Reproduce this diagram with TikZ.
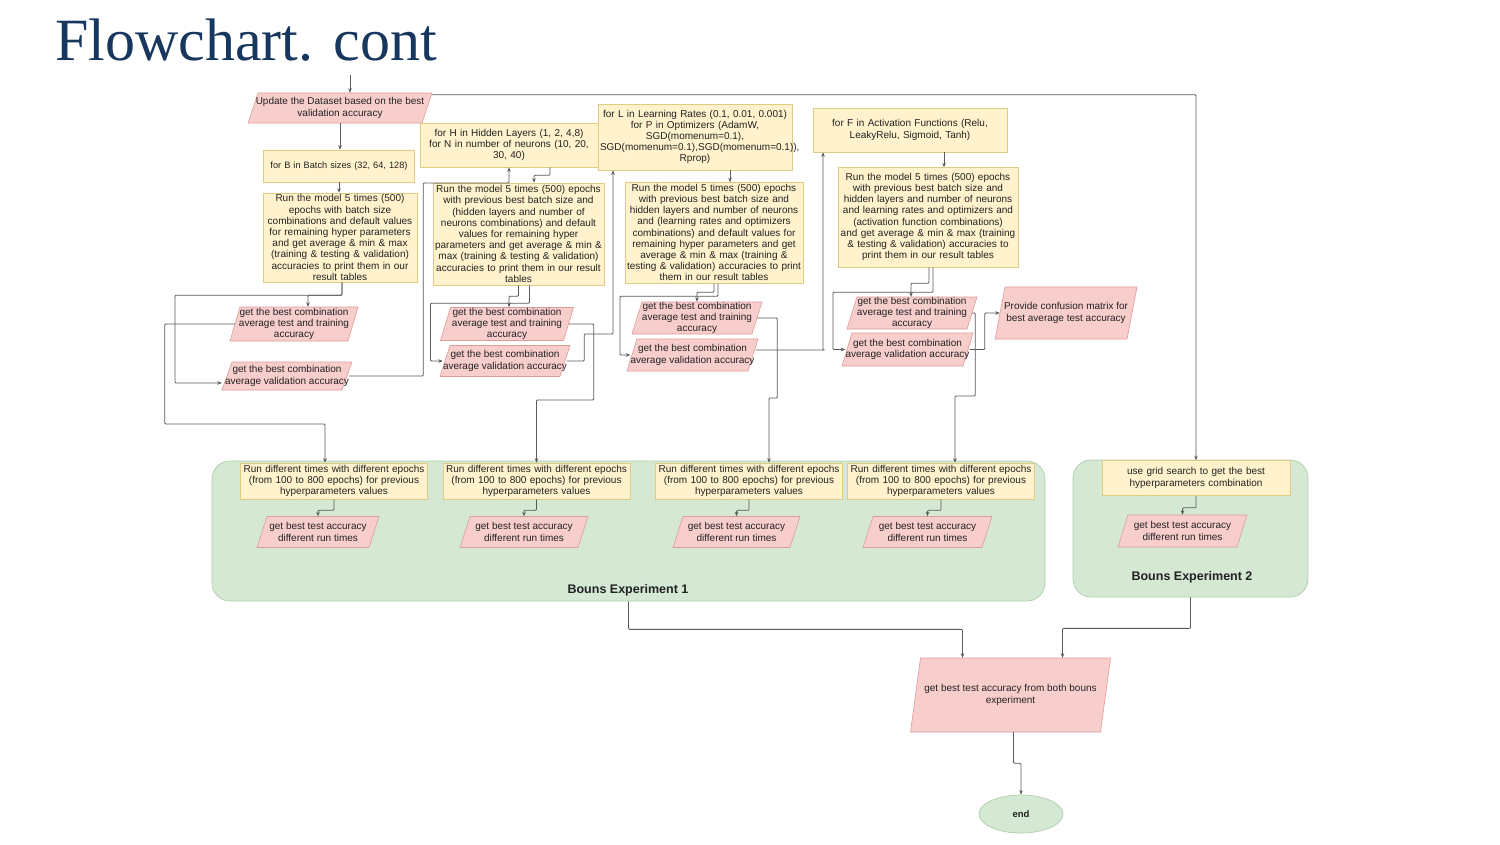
\documentclass[tikz,border=0pt]{standalone}
\usepackage{fontspec}
\setmainfont{Liberation Sans}
\newfontfamily\titlefont{Liberation Serif}
\usetikzlibrary{arrows.meta,calc,shapes.geometric}
\definecolor{yfill}{HTML}{FFF2CC}
\definecolor{ydraw}{HTML}{E0CB80}
\definecolor{pfill}{HTML}{F8CECC}
\definecolor{pdraw}{HTML}{DE9C9A}
\definecolor{gfill}{HTML}{D5E8D4}
\definecolor{gdraw}{HTML}{B2CCAC}
\definecolor{linec}{HTML}{5A5A5A}
\definecolor{titlec}{HTML}{17375E}
\definecolor{txtc}{HTML}{222222}
\tikzset{
  fs/.style={font=\fontsize{10}{11.2}\selectfont, text=txtc},
  ybox/.style={rectangle, draw=ydraw, fill=yfill, line width=0.6pt, inner xsep=2pt, inner ysep=1pt, align=center, fs},
  pshape/.style={fill=pfill, draw=pdraw, line width=0.6pt},
  ptext/.style={rectangle, inner sep=0pt, align=center, fs},
  gbox/.style={rectangle, rounded corners=18pt, fill=gfill, draw=gdraw, line width=0.7pt},
  lbl/.style={font=\fontsize{12.5}{14}\selectfont\bfseries, text=txtc, inner sep=0pt},
  arr/.style={draw=linec, line width=0.8pt, rounded corners=1pt, -{Stealth[length=4.5pt,width=3.5pt]}},
}
\newcommand\mypara[6]{%
  \path[pshape] ({#2-#4/2+5},{#3-#5/2}) -- ({#2+#4/2+5},{#3-#5/2}) -- ({#2+#4/2-5},{#3+#5/2}) -- ({#2-#4/2-5},{#3+#5/2}) -- cycle;
  \node[ptext, minimum width=#4pt, minimum height=#5pt] (#1) at (#2,#3) {#6};}
\begin{document}
\begin{tikzpicture}[x=1pt,y=-1pt]
\fill[white] (0,0) rectangle (1500,844);
\useasboundingbox (0,0) rectangle (1500,844);

\node[anchor=base west, font=\titlefont\fontsize{60}{60}\selectfont, text=titlec, inner sep=0pt] (title) at (55,60) {Flowchart. cont};

% containers
\node[gbox, minimum width=833pt, minimum height=140pt] (bonus1) at (628.5,531) {};
\node[gbox, minimum width=235pt, minimum height=137pt] (bonus2) at (1190.5,528.5) {};
\node[lbl] (lab1) at (628,590) {Bouns Experiment 1};
\node[lbl] (lab2) at (1192,577) {Bouns Experiment 2};

% column 1
\coordinate (top) at (350,75);
\mypara{upd}{340}{108}{174}{30}{Update the Dataset based on the best\\ validation accuracy}
\node[ybox, text width=147pt, minimum height=32pt, font=\fontsize{9.2}{11}\selectfont] (B) at (339,166) {for B in Batch sizes (32, 64, 128)};
\node[ybox, text width=150pt, minimum height=89pt] (run1) at (340,237.5) {Run the model 5 times (500)\\ epochs with batch size\\ combinations and default values\\ for remaining hyper parameters\\ and get average \& min \& max\\ (training \& testing \& validation)\\ accuracies to print them in our\\ result tables};
\mypara{gt1}{294}{324}{118}{34}{get the best combination\\ average test and training\\ accuracy}
\mypara{gv1}{287}{376}{120}{28}{get the best combination\\ average validation accuracy}

% column 2
\node[ybox, text width=174pt, minimum height=44pt] (H) at (509,145) {for H in Hidden Layers (1, 2, 4,8)\\ for N in number of neurons (10, 20,\\ 30, 40)};
\node[ybox, text width=167pt, minimum height=102pt] (run2) at (518.5,234) {Run the model 5 times (500) epochs\\ with previous best batch size and\\ (hidden layers and number of\\ neurons combinations) and default\\ values for remaining hyper\\ parameters and get average \& min \&\\ max (training \& testing \& validation)\\ accuracies to print them in our result\\ tables};
\mypara{gt2}{507}{324}{123}{33}{get the best combination\\ average test and training\\ accuracy}
\mypara{gv2}{505}{361}{120}{31}{get the best combination\\ average validation accuracy}

% column 3
\node[ybox, text width=190pt, minimum height=66pt] (L) at (695,137) {for L in Learning Rates (0.1, 0.01, 0.001)\\ for P in Optimizers (AdamW,\\ SGD(momenum=0.1),\\ SGD(momenum=0.1),SGD(momenum=0.1)),\\ Rprop)};
\node[ybox, text width=174pt, minimum height=101pt] (run3) at (714,232.5) {Run the model 5 times (500) epochs\\ with previous best batch size and\\ hidden layers and number of neurons\\ and (learning rates and optimizers\\ combinations) and default values for\\ remaining hyper parameters and get\\ average \& min \& max (training \&\\ testing \& validation) accuracies to print\\ them in our result tables};
\mypara{gt3}{697}{318}{120}{32}{get the best combination\\ average test and training\\ accuracy}
\mypara{gv3}{692.5}{355}{121}{32}{get the best combination\\ average validation accuracy}

% column 4
\node[ybox, text width=190pt, minimum height=44pt] (F) at (910,130) {for F in Activation Functions (Relu,\\ LeakyRelu, Sigmoid, Tanh)};
\node[ybox, text width=176pt, minimum height=100pt] (run4) at (928,217) {Run the model 5 times (500) epochs\\ with previous best batch size and\\ hidden layers and number of neurons\\ and learning rates and optimizers and\\ (activation function combinations)\\ and get average \& min \& max (training\\ \& testing \& validation) accuracies to\\ print them in our result tables};
\mypara{gt4}{912}{313}{120}{32}{get the best combination\\ average test and training\\ accuracy}
\mypara{gv4}{907.5}{349.5}{121}{33}{get the best combination\\ average validation accuracy}
\mypara{conf}{1066}{313}{132}{52}{Provide confusion matrix for\\ best average test accuracy}

% bonus experiment 1
\node[ybox, text width=183pt, minimum height=36pt] (r1) at (334,481) {Run different times with different epochs\\ (from 100 to 800 epochs) for previous\\ hyperparameters values};
\node[ybox, text width=183pt, minimum height=36pt] (r2) at (536.5,481) {Run different times with different epochs\\ (from 100 to 800 epochs) for previous\\ hyperparameters values};
\node[ybox, text width=183pt, minimum height=36pt] (r3) at (749,481) {Run different times with different epochs\\ (from 100 to 800 epochs) for previous\\ hyperparameters values};
\node[ybox, text width=183pt, minimum height=36pt] (r4) at (941,481) {Run different times with different epochs\\ (from 100 to 800 epochs) for previous\\ hyperparameters values};
\mypara{b1}{318}{532}{112}{31}{get best test accuracy\\ different run times}
\mypara{b2}{524}{532}{118}{31}{get best test accuracy\\ different run times}
\mypara{b3}{736.5}{532}{117}{31}{get best test accuracy\\ different run times}
\mypara{b4}{927.5}{532}{119}{31}{get best test accuracy\\ different run times}

% bonus experiment 2
\node[ybox, text width=184pt, minimum height=35pt] (grid) at (1196,478) {use grid search to get the best\\ hyperparameters combination};
\mypara{gb}{1182.5}{531}{119}{32}{get best test accuracy\\ different run times}

% final
\mypara{fin}{1010.5}{695}{190}{74}{get best test accuracy from both bouns\\ experiment}
\node[ellipse, fill=gfill, draw=gdraw, line width=0.7pt, minimum width=84pt, minimum height=38pt, inner sep=0pt, font=\fontsize{9.5}{11}\selectfont\bfseries, text=txtc] (endn) at (1021,814) {end};

% connectors
\draw[arr] (top) -- (top |- upd.north);
\draw[arr] ($(upd.north east)+(5,2)$) -| (grid.north);
\draw[arr] (upd.south) -- (upd.south |- B.north);
\draw[arr] (B.south) -- (B.south |- run1.north);
\draw[arr] ($(run1.south)+(2,0)$) -- ++(0,13) -| ($(gt1.north)+(14,0)$);
\draw[arr] ($(run1.south)+(2,0)$) -- ++(0,13) -- ++(-167,0) |- ($(gv1.west)+(-3,7)$);
\draw[arr] (gt1.west) -- ++(-70,0) -- ++(0,100) -| ($(r1.north)+(-9,0)$);
\draw[arr] (gv1.east) -- ++(74,0) -- ++(0,-193) -| (H.south);

\draw[arr] ($(H.south)+(41,0)$) -- ++(0,8) -| ($(run2.north)+(15.5,0)$);
\draw[arr] (run2.south) -- ++(0,11) -| ($(gt2.north)+(2,0)$);
\draw[arr] ($(run2.south)+(11,0)$) -- ++(0,18) -- ++(-99,0) |- (gv2.west);
\draw[arr] (gt2.east) -- ++(25,0) -- ++(0,76) -| (r2.north);
\draw[arr] (gv2.east) -- ++(17,0) -- ++(0,-27) -| ($(L.south)+(-82,0)$);

\draw[arr] ($(L.south)+(35,0)$) -- ++(0,12);
\draw[arr] (run3.south) -- ++(0,9) -| (gt3.north);
\draw[arr] ($(run3.south)+(4,0)$) -- ++(0,13) -- ++(-98,0) |- (gv3.west);
\draw[arr] (gt3.east) -- ++(20,0) -- ++(0,80) -| ($(r3.north)+(20,0)$);
\draw[arr] ($(gv3.east)+(1,-5)$) -- ++(70,0) -| ($(F.south)+(-87,0)$);

\draw[arr] ($(F.south)+(34,0)$) -- ++(0,15);
\draw[arr] ($(run4.south)+(1,0)$) -- ++(0,16) -| ($(gt4.north)+(-1,0)$);
\draw[arr] ($(run4.south)+(5,0)$) -- ++(0,25) -- ++(-100,0) |- (gv4.west);
\draw[arr] (gt4.east) -- ++(3,0) -- ++(0,83) -| ($(r4.north)+(14,0)$);
\draw[arr] (gv4.east) -- ++(15,0) |- (conf.west);

\foreach \i in {1,...,4} {\draw[arr] (r\i.south) -- ++(0,11) -| (b\i.north);}
\draw[arr] (grid.south) -- ++(0,12) -| (gb.north);

\draw[arr] (bonus1.south) -- ++(0,28) -| ($(fin.north)+(-48,0)$);
\draw[arr] (bonus2.south) -- ++(0,31) -| ($(fin.north)+(52,0)$);
\draw[arr] ($(fin.south)+(3,0)$) -- ++(0,31) -| (endn.north);
\end{tikzpicture}
\end{document}
